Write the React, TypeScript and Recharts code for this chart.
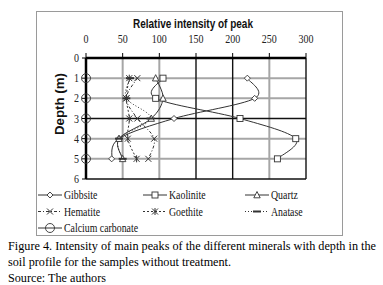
import { LineChart, Line, XAxis, YAxis, CartesianGrid, Legend } from "recharts"

// depth (m) of each sample, top to bottom
const depths = [1, 2, 3, 4, 5]

// relative intensity of the main peak
const gibbsite = [220, 230, 120, 45, 35]
const kaolinite = [105, 95, 210, 286, 261]
const quartz = [95, 105, 89, 45, 50]
const hematite = [70, 55, 70, 93, 85]
const goethite = [59, 55, 59, 57, 69]
const anatase = [60, 55, 88, 45, 50]
const calcium = [0, 0, 0, 0, 0]

const xTicks = [0, 50, 100, 150, 200, 250, 300]
const yTicks = [0, 1, 2, 3, 4, 5, 6]

const data = depths.map((depth, i) => ({
    depth,
    gibbsite: gibbsite[i],
    kaolinite: kaolinite[i],
    quartz: quartz[i],
    hematite: hematite[i],
    goethite: goethite[i],
    anatase: anatase[i],
    calcium: calcium[i],
}))

const SERIES = [
    { key: "gibbsite", name: "Gibbsite", shape: "diamond", dash: undefined },
    { key: "kaolinite", name: "Kaolinite", shape: "square", dash: undefined },
    { key: "quartz", name: "Quartz", shape: "triangle", dash: undefined },
    { key: "hematite", name: "Hematite", shape: "cross", dash: "3 2 1 2" },
    { key: "goethite", name: "Goethite", shape: "star", dash: "2 2" },
    { key: "anatase", name: "Anatase", shape: "dash", dash: "1 2" },
    { key: "calcium", name: "Calcium carbonate", shape: "circle", dash: undefined },
]

const INK = "#333"
const SERIF = "'Liberation Serif', 'Times New Roman', serif"
const SANS = "'Liberation Sans', Arial, sans-serif"

// excel style smoothing (catmull-rom through every point)
const smooth = (context: any) => {
    let pts: number[][] = []
    return {
        areaStart() {},
        areaEnd() {},
        lineStart() { pts = [] },
        lineEnd() {
            if (!pts.length) return
            context.moveTo(pts[0][0], pts[0][1])
            for (let i = 0; i < pts.length - 1; i++) {
                const p0 = pts[Math.max(i - 1, 0)]
                const p1 = pts[i]
                const p2 = pts[i + 1]
                const p3 = pts[Math.min(i + 2, pts.length - 1)]
                context.bezierCurveTo(
                    p1[0] + (p2[0] - p0[0]) / 6, p1[1] + (p2[1] - p0[1]) / 6,
                    p2[0] - (p3[0] - p1[0]) / 6, p2[1] - (p3[1] - p1[1]) / 6,
                    p2[0], p2[1]
                )
            }
        },
        point(x: number, y: number) { pts.push([x, y]) },
    }
}

function Marker({ shape, cx, cy }: { shape: string, cx: number, cy: number }) {
    const s = { stroke: INK, strokeWidth: 0.9, fill: "#fff" }
    switch (shape) {
        case "diamond":
            return <polygon points={`${cx},${cy - 3} ${cx + 3},${cy} ${cx},${cy + 3} ${cx - 3},${cy}`} {...s} />
        case "square":
            return <rect x={cx - 3} y={cy - 3} width={6} height={6} {...s} />
        case "triangle":
            return <polygon points={`${cx},${cy - 3.5} ${cx + 3.2},${cy + 2.8} ${cx - 3.2},${cy + 2.8}`} {...s} />
        case "cross":
            return <path d={`M${cx - 3},${cy - 3}L${cx + 3},${cy + 3}M${cx - 3},${cy + 3}L${cx + 3},${cy - 3}`} stroke={INK} strokeWidth={1} />
        case "star":
            return <path d={`M${cx - 3},${cy - 3}L${cx + 3},${cy + 3}M${cx - 3},${cy + 3}L${cx + 3},${cy - 3}M${cx},${cy - 3.5}L${cx},${cy + 3.5}`} stroke={INK} strokeWidth={1} />
        case "dash":
            return <path d={`M${cx - 4},${cy}L${cx + 4},${cy}`} stroke={INK} strokeWidth={2} />
        default:
            return <circle cx={cx} cy={cy} r={4.5} {...s} fill="none" />
    }
}

const LEGEND_X = [38, 143, 245]

// legend keeps the series order of the original figure
function LegendBox() {
    return (
        <svg width={383} height={60} style={{ display: "block" }}>
            {SERIES.map((s, i) => {
                const x = LEGEND_X[i % 3]
                const y = 15 + Math.floor(i / 3) * 16.5
                return (
                    <g key={s.key}>
                        <line x1={x} x2={x + 24} y1={y} y2={y} stroke={INK} strokeWidth={1} strokeDasharray={s.dash} />
                        <Marker shape={s.shape} cx={x + 12} cy={y} />
                        <text x={0} y={0} fontSize={12} fontFamily={SERIF} fill="#111"
                            transform={`translate(${x + 26},${y + 4}) scale(0.82,1)`}>
                            {s.name}
                        </text>
                    </g>
                )
            })}
        </svg>
    )
}

function TopTick({ x, y, payload }: any) {
    return (
        <text x={0} y={0} transform={`translate(${x},${y}) scale(0.87,1)`} textAnchor="middle"
            fontSize={11.5} fontFamily={SERIF} fill="#222">
            {payload.value}
        </text>
    )
}

function LeftTick({ x, y, payload }: any) {
    return (
        <text x={0} y={0} transform={`translate(${x},${y + 4}) scale(0.87,1)`} textAnchor="end"
            fontSize={11.5} fontFamily={SERIF} fill="#222">
            {payload.value}
        </text>
    )
}

export default function App() {
    return (
        <div style={{ position: "absolute", left: 0, top: 0, width: 383, height: 285, background: "#fff" }}>
            <LineChart width={383} height={285} data={data} layout="vertical"
                margin={{ top: 38, right: 77, bottom: 106, left: 56 }}>
                <CartesianGrid horizontalValues={[1, 2, 4, 5]} verticalValues={[50, 100, 250]} stroke="#a6a6a6" strokeWidth={2} />
                <CartesianGrid horizontalValues={[3, 6]} verticalValues={[150, 200, 300]} stroke="#111" strokeWidth={1.4} />
                <XAxis type="number" orientation="top" domain={[0, 300]} ticks={xTicks} height={20}
                    tickSize={5} tickMargin={10} interval={0} tick={<TopTick />}
                    axisLine={{ stroke: "#000", strokeWidth: 2.5 }} tickLine={{ stroke: "#000" }} />
                <YAxis type="number" dataKey="depth" domain={[0, 6]} ticks={yTicks} width={30}
                    tickSize={4} tickMargin={3} interval={0} tick={<LeftTick />}
                    axisLine={{ stroke: "#000", strokeWidth: 2.5 }} tickLine={{ stroke: "#000" }} />
                <Legend layout="horizontal" verticalAlign="middle" content={<LegendBox />}
                    wrapperStyle={{ left: 0, top: 180, width: 383, height: 60 }} />
                {SERIES.map(s => (
                    <Line key={s.key} dataKey={s.key} name={s.name} type={smooth as any}
                        stroke={INK} strokeWidth={1} strokeDasharray={s.dash}
                        dot={(p: any) => <Marker key={`${s.key}-${p.index}`} shape={s.shape} cx={p.cx} cy={p.cy} />}
                        activeDot={false} isAnimationActive={false} />
                ))}
            </LineChart>
            <svg width={383} height={285} style={{ position: "absolute", left: 0, top: 0, pointerEvents: "none" }}>
                <rect x={36.5} y={11.5} width={306} height={224} fill="none" stroke="#9a9a9a" strokeWidth={1} />
                <text x={133} y={28} fontSize={13} fontWeight="bold" fontFamily={SANS} fill="#111"
                    textLength={120} lengthAdjust="spacingAndGlyphs">Relative intensity of peak</text>
                <text x={0} y={0} transform="translate(63.5,135) rotate(-90)" fontSize={13} fontWeight="bold"
                    fontFamily={SANS} fill="#111" textLength={62} lengthAdjust="spacingAndGlyphs">Depth (m)</text>
                <text x={8} y={250} fontSize={12} fontFamily={SERIF} fill="#000" textLength={368} lengthAdjust="spacingAndGlyphs">
                    Figure 4. Intensity of main peaks of the different minerals with depth in the
                </text>
                <text x={8} y={266} fontSize={12.2} fontFamily={SERIF} fill="#000">
                    soil profile for the samples without treatment.
                </text>
                <text x={8} y={282} fontSize={12.2} fontFamily={SERIF} fill="#000">Source: The authors</text>
            </svg>
        </div>
    )
}
